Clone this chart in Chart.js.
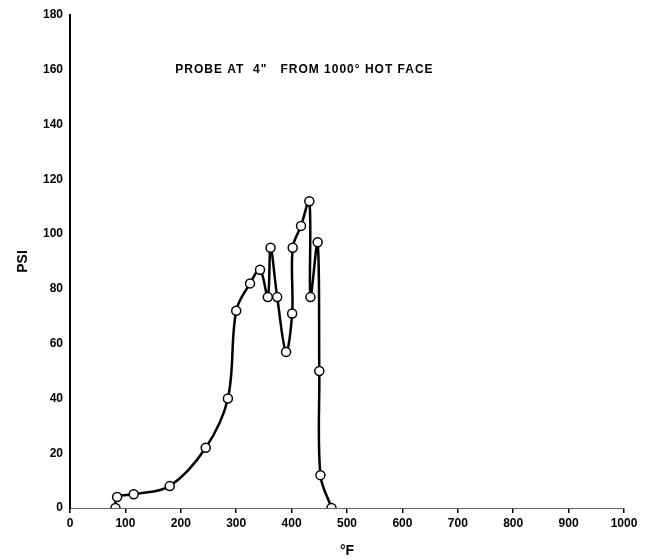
<!DOCTYPE html>
<html>
<head>
<meta charset="utf-8">
<script src="https://cdn.jsdelivr.net/npm/chart.js@4/dist/chart.umd.min.js"></script>
<style>
  html, body { margin: 0; padding: 0; background: #fff; }
  #wrap { width: 645px; height: 560px; }
</style>
</head>
<body>
<div id="wrap"><canvas id="probeChart" width="645" height="560"></canvas></div>
<script>
// temperature at the probe (deg F) and the pressure read there (psi)
let tempF = [82, 85, 115, 180, 245, 285, 300, 325, 343, 357, 362, 374, 390, 401, 402, 417, 432, 434, 447, 450, 452, 472];
let psi = [0, 4, 5, 8, 22, 40, 72, 82, 87, 77, 95, 77, 57, 71, 95, 103, 112, 77, 97, 50, 12, 0];

let xTicks = [0, 100, 200, 300, 400, 500, 600, 700, 800, 900, 1000];
let yTicks = [0, 20, 40, 60, 80, 100, 120, 140, 160, 180];

let noteText = 'PROBE AT  4"   FROM 1000° HOT FACE';
let noteAt = [190, 160];

let points = [];
for (let i = 0; i < tempF.length; i++) {
  points.push({ x: tempF[i], y: psi[i] });
}

const tickFont = { family: '"Liberation Sans", Arial, sans-serif', size: 12, weight: 'bold' };

// writes the probe note inside the plot, placed by the scales
const notePlugin = {
  id: 'probeNote',
  afterDraw(chart) {
    let ctx = chart.ctx;
    let x = chart.scales.x.getPixelForValue(noteAt[0]);
    let y = chart.scales.y.getPixelForValue(noteAt[1]);
    ctx.save();
    ctx.font = 'bold 12px "Liberation Sans", Arial, sans-serif';
    ctx.letterSpacing = '1px';
    ctx.fillStyle = '#000';
    ctx.textBaseline = 'middle';
    ctx.fillText(noteText, x, y);
    ctx.restore();
  }
};

window.onload = function () {
  let ctx = document.getElementById('probeChart').getContext('2d');

  window.probeChart = new Chart(ctx, {
    type: 'scatter',
    data: {
      datasets: [{
        data: points,
        showLine: true,
        borderColor: '#000',
        borderWidth: 2.5,
        tension: 0.35,
        pointRadius: 4.5,
        pointBackgroundColor: '#fff',
        pointBorderColor: '#000',
        pointBorderWidth: 1.5
      }]
    },
    options: {
      responsive: false,
      animation: false,
      layout: { padding: { top: 15, right: 21, left: 15, bottom: 0 } },
      plugins: {
        legend: { display: false },
        tooltip: { enabled: false }
      },
      scales: {
        x: {
          type: 'linear',
          min: 0,
          max: 1000,
          afterBuildTicks: function (scale) {
            scale.ticks = xTicks.map(v => ({ value: v }));
          },
          afterFit: function (scale) { scale.height = 52; },
          border: { display: true, color: '#666', width: 1, dash: [2, 7] },
          grid: { drawOnChartArea: false, tickLength: 5, color: '#000', lineWidth: 1.5 },
          ticks: {
            color: '#000',
            font: tickFont,
            padding: 3,
            maxRotation: 0,
            callback: function (value) { return String(value); }
          },
          title: {
            display: true,
            text: '°F',
            color: '#000',
            font: { family: '"Liberation Sans", Arial, sans-serif', size: 14, weight: 'bold' },
            padding: { top: 8, bottom: 0 }
          }
        },
        y: {
          min: 0,
          max: 180,
          afterBuildTicks: function (scale) {
            scale.ticks = yTicks.map(v => ({ value: v }));
          },
          afterFit: function (scale) { scale.width = 55; },
          border: { display: true, color: '#000', width: 2 },
          grid: { drawOnChartArea: false, drawTicks: false },
          ticks: { color: '#000', font: tickFont, padding: 7 },
          title: {
            display: true,
            text: 'PSI',
            color: '#000',
            font: { family: '"Liberation Sans", Arial, sans-serif', size: 14, weight: 'bold' },
            padding: { top: 0, bottom: 10 }
          }
        }
      }
    },
    plugins: [notePlugin]
  });
};
</script>
</body>
</html>
